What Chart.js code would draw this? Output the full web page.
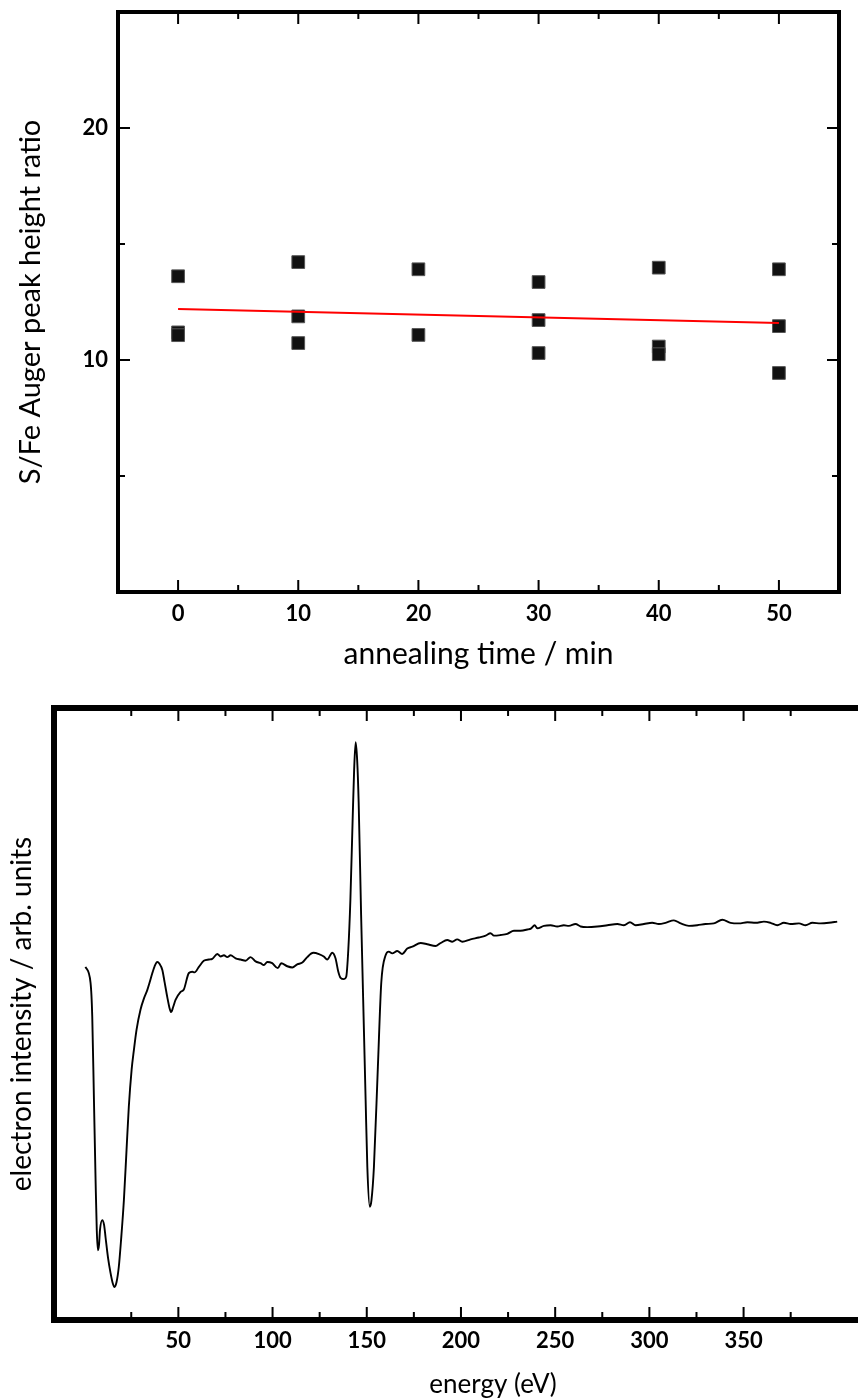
<!DOCTYPE html>
<html>
<head>
<meta charset="utf-8">
<script src="https://cdn.jsdelivr.net/npm/chart.js@4/dist/chart.umd.min.js"></script>
<style>
  html, body { margin: 0; padding: 0; background: #fff; overflow: hidden; }
  #wrap { position: relative; width: 858px; height: 1400px; overflow: hidden; }
  #ratioChart { position: absolute; left: 0; top: 0; }
  #spectrumChart { position: absolute; left: 0; top: 690px; }
</style>
</head>
<body>
<div id="wrap">
  <canvas id="ratioChart" width="858" height="690"></canvas>
  <canvas id="spectrumChart" width="936" height="710"></canvas>
</div>
<script>
// --- top panel: S/Fe Auger ratio vs annealing time ---
const annealTime = [0, 0, 0, 10, 10, 10, 20, 20, 30, 30, 30, 40, 40, 40, 50, 50, 50];
const sfeRatio   = [13.61, 11.19, 11.07, 14.22, 11.88, 10.73, 13.91, 11.08, 13.36, 11.72, 10.30, 13.98, 10.58, 10.25, 13.91, 11.46, 9.44];
const fitTime    = [0, 50];
const fitRatio   = [12.2, 11.6];
const timeTicks  = [0, 10, 20, 30, 40, 50];
const timeMinor  = [5, 15, 25, 35, 45];
const ratioTicks = [10, 20];
const ratioMinor = [5, 15];

// --- bottom panel: Auger spectrum (arb. units) ---
const energy = [
  0.7, 3.4, 4.3, 5.2, 6.1, 6.7, 7.3, 7.9, 8.4, 9.6, 10.6, 11.4, 12.7, 14.0, 15.1, 16.1, 17.2, 18.4, 19.6, 21.1,
  22.5, 23.7, 25.2, 26.4, 27.8, 29.9, 31.8, 33.5, 34.7, 36.2, 37.4, 38.8, 40.0, 41.5, 42.7, 44.1, 45.3, 46.2, 47.2, 48.5,
  51.2, 52.9, 55.6, 57.4, 58.6, 60.9, 63.5, 66.2, 68.0, 70.7, 72.4, 74.2, 76.0, 77.7, 80.4, 83.0, 85.7, 88.3, 91.0, 93.6,
  95.4, 97.2, 99.8, 102.8, 104.6, 107.8, 110.5, 113.1, 115.8, 118.4, 121.6, 124.6, 127.2, 129.0, 131.7, 133.4, 134.9, 136.1, 137.9, 139.1,
  140.2, 141.3, 142.5, 143.3, 144.1, 144.9, 145.7, 147.0, 148.1, 149.4, 150.3, 151.6, 152.5, 153.8, 155.9, 157.7, 160.0,
  161.7, 163.5, 166.2, 168.8, 171.5, 174.2, 178.6, 182.1, 186.5, 189.2, 192.7, 195.4, 198.0, 200.7, 205.1, 209.5, 213.1, 215.7, 217.5, 221.0,
  224.6, 228.1, 231.6, 235.2, 237.3, 239.1, 240.5, 244.0, 247.6, 251.1, 254.6, 257.3, 260.8, 263.5, 267.0, 272.4, 277.7, 283.0, 286.5, 289.7,
  292.7, 297.1, 301.5, 305.0, 308.6, 313.0, 316.6, 321.0, 325.4, 329.8, 334.2, 338.7, 343.1, 347.5, 352.0, 356.4, 360.8, 364.3, 367.9, 371.4,
  375.0, 379.4, 382.9, 386.5, 390.9, 395.3, 399.7
];
const intensity = [
  57.7, 55.1, 49.6, 36.0, 22.4, 14.7, 11.4, 12.3, 14.7, 16.3, 15.5, 13.4, 10.1, 7.7, 6.1, 5.4, 6.2, 8.7, 13.1, 19.6,
  27.8, 34.8, 40.9, 44.1, 47.4, 50.7, 52.6, 53.9, 55.1, 56.7, 57.8, 58.5, 58.2, 57.2, 55.2, 52.8, 51.0, 50.3, 51.1, 52.3,
  53.6, 54.0, 56.7, 56.9, 56.8, 57.7, 58.7, 58.9, 59.0, 59.8, 59.4, 59.6, 59.3, 59.6, 59.1, 58.9, 58.7, 59.3, 58.6, 58.3,
  58.0, 58.5, 58.3, 57.5, 58.3, 57.8, 57.6, 58.1, 58.4, 59.3, 60.0, 59.8, 59.4, 58.9, 60.0, 59.1, 56.9, 55.9, 55.7, 56.1,
  60.5, 68.6, 81.7, 89.9, 94.4, 91.5, 84.6, 66.2, 52.3, 35.9, 25.0, 18.5, 19.6, 25.0, 41.4, 55.1, 59.6,
  60.2, 59.9, 60.3, 59.8, 60.7, 61.0, 61.6, 61.4, 61.1, 61.6, 62.1, 61.8, 62.2, 61.8, 62.2, 62.5, 62.8, 63.2, 62.8, 62.9,
  63.1, 63.6, 63.6, 63.8, 64.0, 64.5, 64.0, 64.4, 64.5, 64.3, 64.5, 64.4, 64.7, 64.3, 64.2, 64.3, 64.5, 64.7, 64.5, 65.0,
  64.5, 64.7, 64.9, 64.7, 64.9, 65.3, 64.8, 64.4, 64.5, 64.7, 64.8, 65.4, 64.9, 64.8, 65.0, 64.9, 65.1, 64.9, 64.5, 64.9,
  64.7, 64.8, 64.5, 64.9, 64.8, 64.9, 65.1
];
const energyTicks = [50, 100, 150, 200, 250, 300, 350];
const energyMinor = [25, 75, 125, 175, 225, 275, 325, 375];

Chart.defaults.font.family = 'Lato, "Open Sans", sans-serif';
Chart.defaults.color = '#000';
const tickFont = { size: 22, weight: 'bold' };

// fixed axis box, no label overhang padding
const fixBox = (w, h) => s => {
  if (w != null) s.width = w;
  if (h != null) s.height = h;
  s.paddingTop = 0; s.paddingBottom = 0; s.paddingLeft = 0; s.paddingRight = 0;
};

// closed frame with inward ticks on all four sides
function frameTicks(cfg) {
  return {
    id: 'frameTicks',
    afterDatasetsDraw(chart) {
      const { ctx, chartArea: a, scales } = chart;
      const fw = cfg.frameWidth / 2;
      ctx.save();
      ctx.strokeStyle = '#000';
      ctx.lineWidth = cfg.tickWidth;
      const vtick = (v, len) => {
        const px = scales.x.getPixelForValue(v);
        ctx.beginPath();
        ctx.moveTo(px, a.bottom - fw); ctx.lineTo(px, a.bottom - fw - len);
        ctx.moveTo(px, a.top + fw);    ctx.lineTo(px, a.top + fw + len);
        ctx.stroke();
      };
      const htick = (v, len) => {
        const py = scales.y.getPixelForValue(v);
        ctx.beginPath();
        ctx.moveTo(a.left + fw, py);  ctx.lineTo(a.left + fw + len, py);
        ctx.moveTo(a.right - fw, py); ctx.lineTo(a.right - fw - len, py);
        ctx.stroke();
      };
      cfg.xMajor.forEach(v => vtick(v, cfg.major));
      cfg.xMinor.forEach(v => vtick(v, cfg.minor));
      cfg.yMajor.forEach(v => htick(v, cfg.major));
      cfg.yMinor.forEach(v => htick(v, cfg.minor));
      ctx.lineWidth = cfg.frameWidth;
      ctx.strokeRect(a.left, a.top, a.right - a.left, a.bottom - a.top);
      ctx.restore();
    }
  };
}

new Chart(document.getElementById('ratioChart'), {
  type: 'scatter',
  data: {
    datasets: [
      {
        type: 'line',
        data: fitTime.map((t, i) => ({ x: t, y: fitRatio[i] })),
        borderColor: '#ff0000',
        borderWidth: 2,
        pointRadius: 0,
      },
      {
        data: annealTime.map((t, i) => ({ x: t, y: sfeRatio[i] })),
        pointStyle: 'rect',
        pointRadius: 9,
        backgroundColor: '#111',
        borderColor: '#555',
        borderWidth: 1,
      },
    ],
  },
  options: {
    responsive: false,
    animation: false,
    layout: { padding: { top: 12, right: 19, left: 0, bottom: 0 } },
    plugins: { legend: { display: false }, tooltip: { enabled: false } },
    scales: {
      x: {
        type: 'linear', min: -5, max: 55,
        afterBuildTicks: s => { s.ticks = timeTicks.map(v => ({ value: v })); },
        afterFit: fixBox(null, 98),
        grid: { display: false, drawTicks: false },
        border: { display: false },
        ticks: { padding: 9, font: tickFont },
        title: { display: true, text: 'annealing time / min', font: { size: 30 }, padding: { top: 0, bottom: 18 } },
      },
      y: {
        min: 0, max: 25,
        afterBuildTicks: s => { s.ticks = ratioTicks.map(v => ({ value: v })); },
        afterFit: fixBox(118, null),
        grid: { display: false, drawTicks: false },
        border: { display: false },
        ticks: { padding: 10, font: tickFont },
        title: { display: true, text: 'S/Fe Auger peak height ratio', font: { size: 29 }, padding: { top: 13, bottom: 0 } },
      },
    },
  },
  plugins: [frameTicks({
    frameWidth: 4, tickWidth: 2, major: 10, minor: 5,
    xMajor: timeTicks, xMinor: timeMinor, yMajor: ratioTicks, yMinor: ratioMinor,
  })],
});

new Chart(document.getElementById('spectrumChart'), {
  type: 'line',
  data: {
    datasets: [{
      data: energy.map((e, i) => ({ x: e, y: intensity[i] })),
      borderColor: '#000',
      borderWidth: 1.9,
      pointRadius: 0,
      cubicInterpolationMode: 'monotone',
    }],
  },
  options: {
    responsive: false,
    animation: false,
    layout: { padding: { top: 18, right: 4, left: 0, bottom: 0 } },
    plugins: { legend: { display: false }, tooltip: { enabled: false } },
    scales: {
      x: {
        type: 'linear', min: -16, max: 450,
        afterBuildTicks: s => { s.ticks = energyTicks.map(v => ({ value: v })); },
        afterFit: fixBox(null, 80),
        grid: { display: false, drawTicks: false },
        border: { display: false },
        ticks: { padding: 8, font: tickFont },
        title: { display: true, text: 'energy (eV)', font: { size: 26 }, padding: { top: 0, bottom: 0 } },
      },
      y: {
        min: 0, max: 100,
        afterFit: fixBox(54, null),
        grid: { display: false, drawTicks: false },
        border: { display: false },
        ticks: { display: false },
        title: { display: true, text: 'electron intensity / arb. units', font: { size: 28 }, padding: { top: 5, bottom: 0 } },
      },
    },
  },
  plugins: [frameTicks({
    frameWidth: 6, tickWidth: 2, major: 10, minor: 5,
    xMajor: energyTicks, xMinor: energyMinor, yMajor: [], yMinor: [],
  })],
});
</script>
</body>
</html>
